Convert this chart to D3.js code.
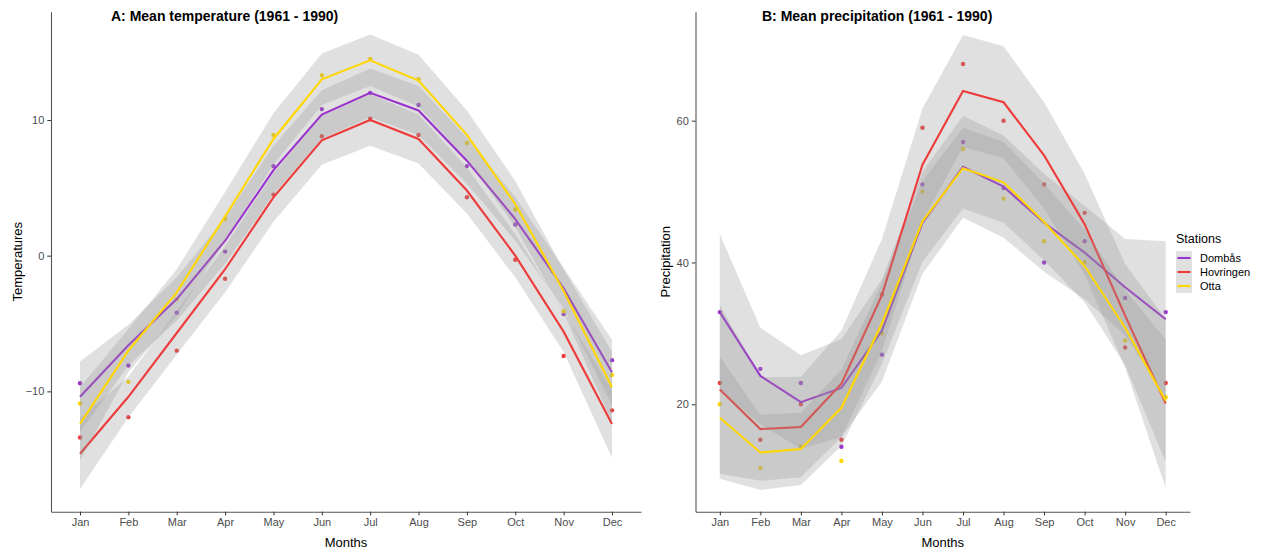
<!DOCTYPE html>
<html>
<head>
<meta charset="utf-8">
<script src="https://cdn.jsdelivr.net/npm/d3@7"></script>
<style>
    body { margin: 0; background: #fff; }
    text { font-family: "Liberation Sans", Arial, sans-serif; }
</style>
</head>
<body>
<svg id="chart" width="1288" height="552"></svg>
<script>
"use strict";

const months = ["Jan", "Feb", "Mar", "Apr", "May", "Jun", "Jul", "Aug", "Sep", "Oct", "Nov", "Dec"];
const stations = ["Dombås", "Hovringen", "Otta"];
const stationColors = ["#9A32CD", "#EE3B3B", "#FFD700"];

// A: temperature, observed monthly means
const tempObsDombas = [-9.4, -8.1, -4.2, 0.3, 6.6, 10.8, 12.0, 11.1, 6.6, 2.3, -4.3, -7.7];
const tempObsHovringen = [-13.4, -11.9, -7.0, -1.7, 4.5, 8.8, 10.1, 8.9, 4.3, -0.3, -7.4, -11.4];
const tempObsOtta = [-10.9, -9.3, -3.2, 2.7, 8.9, 13.3, 14.5, 13.0, 8.3, 3.4, -4.1, -8.8];
// A: smoothed fit and its standard error band
const tempFitDombas = [-10.4, -6.6, -3.2, 1.1, 6.3, 10.4, 12.0, 10.7, 7.0, 2.7, -2.4, -8.6];
const tempFitHovringen = [-14.6, -10.4, -5.7, -1.0, 4.3, 8.5, 10.0, 8.6, 4.8, 0.0, -5.6, -12.4];
const tempFitOtta = [-12.4, -7.0, -2.7, 2.9, 8.6, 13.0, 14.4, 12.9, 8.9, 3.8, -2.6, -9.7];
const tempSeDombas = [2.6, 1.5, 1.6, 1.7, 1.8, 1.8, 1.8, 1.8, 1.7, 1.6, 1.5, 2.4];
const tempSeHovringen = [2.6, 1.5, 1.6, 1.7, 1.8, 1.8, 1.9, 1.8, 1.7, 1.6, 1.5, 2.5];
const tempSeOtta = [2.7, 1.6, 1.7, 1.8, 1.9, 1.9, 1.9, 1.9, 1.8, 1.7, 1.6, 2.6];

// B: precipitation, observed monthly means
const precObsDombas = [33.0, 25.0, 23.0, 14.0, 27.0, 51.0, 57.0, 50.5, 40.0, 43.0, 35.0, 33.0];
const precObsHovringen = [23.0, 15.0, 20.0, 15.0, 35.5, 59.0, 68.0, 60.0, 51.0, 47.0, 28.0, 23.0];
const precObsOtta = [20.0, 11.0, 14.0, 12.0, 30.0, 50.0, 56.0, 49.0, 43.0, 40.0, 29.0, 21.0];
// B: smoothed fit and its standard error band
const precFitDombas = [33.0, 24.0, 20.3, 22.3, 30.4, 45.6, 53.5, 50.7, 45.6, 41.4, 36.5, 32.0];
const precFitHovringen = [22.1, 16.5, 16.8, 22.9, 35.4, 53.8, 64.2, 62.6, 55.1, 45.4, 32.5, 20.1];
const precFitOtta = [18.1, 13.2, 13.7, 19.5, 31.4, 45.8, 53.3, 51.3, 45.7, 39.5, 30.8, 20.5];
const precSeDombas = [11.0, 6.8, 6.6, 6.9, 7.2, 7.2, 7.2, 7.2, 6.9, 6.6, 6.8, 11.0];
const precSeHovringen = [11.9, 7.3, 7.1, 7.5, 7.9, 7.9, 7.9, 7.9, 7.5, 7.1, 7.3, 11.9];
const precSeOtta = [8.6, 5.3, 5.1, 5.4, 5.7, 5.7, 5.7, 5.7, 5.4, 5.1, 5.3, 8.6];

const tempTicks = [-10, 0, 10];
const precTicks = [20, 40, 60];

(function () {
    const svg = d3.select("#chart");

    const top = 11.7, bottom = 511.7;

    function makeSeries(obs, fit, se) {
        return stations.map((name, i) => ({
            name: name,
            color: stationColors[i],
            values: months.map((m, j) => ({ month: m, obs: obs[i][j], fit: fit[i][j], se: se[i][j] }))
        }));
    }

    function drawPanel(cfg) {
        const g = svg.append("g");

        const x = d3.scalePoint()
            .domain(months)
            .range([cfg.left, cfg.right])
            .padding(0.6);

        const y = d3.scaleLinear()
            .domain(cfg.yDomain)
            .range([bottom, top]);

        // points first, smooth layers are painted over them
        cfg.series.forEach(s => {
            g.append("g").selectAll("circle")
                .data(s.values)
                .enter()
                .append("circle")
                .attr("cx", d => x(d.month))
                .attr("cy", d => y(d.obs))
                .attr("r", 2.2)
                .style("fill", s.color);
        });

        const area = d3.area()
            .x(d => x(d.month))
            .y0(d => y(d.fit - d.se))
            .y1(d => y(d.fit + d.se));

        const line = d3.line()
            .x(d => x(d.month))
            .y(d => y(d.fit));

        cfg.series.forEach(s => {
            g.append("path")
                .datum(s.values)
                .attr("d", area)
                .style("fill", "#999999")
                .style("fill-opacity", 0.3);
            g.append("path")
                .datum(s.values)
                .attr("d", line)
                .style("fill", "none")
                .style("stroke", s.color)
                .style("stroke-width", 2.1);
        });

        const xAxis = g.append("g")
            .attr("transform", `translate(0,${bottom})`)
            .call(d3.axisBottom(x).tickSizeInner(3.7).tickSizeOuter(0).tickPadding(3));

        const yAxis = g.append("g")
            .attr("transform", `translate(${cfg.left},0)`)
            .call(d3.axisLeft(y).tickValues(cfg.ticks).tickSizeInner(3.7).tickSizeOuter(0).tickPadding(3));

        [xAxis, yAxis].forEach(a => {
            a.select(".domain").attr("stroke", "#555").attr("stroke-width", 1.1);
            a.selectAll(".tick line").attr("stroke", "#333").attr("stroke-width", 1);
            a.selectAll(".tick text")
                .attr("fill", "#4d4d4d")
                .style("font-size", "11px")
                .style("font-family", "'Liberation Sans', Arial, sans-serif");
        });

        g.append("text")
            .attr("x", cfg.titleX)
            .attr("y", 21)
            .style("font-size", "14px")
            .style("font-weight", "bold")
            .text(cfg.title);

        g.append("text")
            .attr("x", (cfg.left + cfg.right) / 2)
            .attr("y", 547)
            .attr("text-anchor", "middle")
            .style("font-size", "13px")
            .text("Months");

        g.append("text")
            .attr("transform", `translate(${cfg.yLabelX},${(top + bottom) / 2}) rotate(-90)`)
            .attr("text-anchor", "middle")
            .style("font-size", "13px")
            .text(cfg.yLabel);
    }

    drawPanel({
        left: 51, right: 641,
        yDomain: [-18.87, 17.98],
        ticks: tempTicks,
        title: "A: Mean temperature (1961 - 1990)",
        titleX: 111,
        yLabel: "Temperatures",
        yLabelX: 22,
        series: makeSeries(
            [tempObsDombas, tempObsHovringen, tempObsOtta],
            [tempFitDombas, tempFitHovringen, tempFitOtta],
            [tempSeDombas, tempSeHovringen, tempSeOtta])
    });

    drawPanel({
        left: 695.5, right: 1190,
        yDomain: [4.85, 75.37],
        ticks: precTicks,
        title: "B: Mean precipitation (1961 - 1990)",
        titleX: 762,
        yLabel: "Precipitation",
        yLabelX: 670,
        series: makeSeries(
            [precObsDombas, precObsHovringen, precObsOtta],
            [precFitDombas, precFitHovringen, precFitOtta],
            [precSeDombas, precSeHovringen, precSeOtta])
    });

    // legend
    const legend = svg.append("g").attr("transform", "translate(1176,0)");
    legend.append("text")
        .attr("x", 0)
        .attr("y", 243)
        .style("font-size", "12.5px")
        .text("Stations");

    const rows = legend.selectAll("g.item")
        .data(stations)
        .enter()
        .append("g")
        .attr("class", "item")
        .attr("transform", (d, i) => `translate(0,${251 + i * 14})`);

    rows.append("rect")
        .attr("width", 16)
        .attr("height", 14)
        .style("fill", "#e0e0e0");
    rows.append("line")
        .attr("x1", 1.5).attr("x2", 14.5)
        .attr("y1", 7).attr("y2", 7)
        .style("stroke", (d, i) => stationColors[i])
        .style("stroke-width", 2.1);
    rows.append("text")
        .attr("x", 24)
        .attr("y", 11)
        .style("font-size", "11px")
        .text(d => d);
})();
</script>
</body>
</html>
